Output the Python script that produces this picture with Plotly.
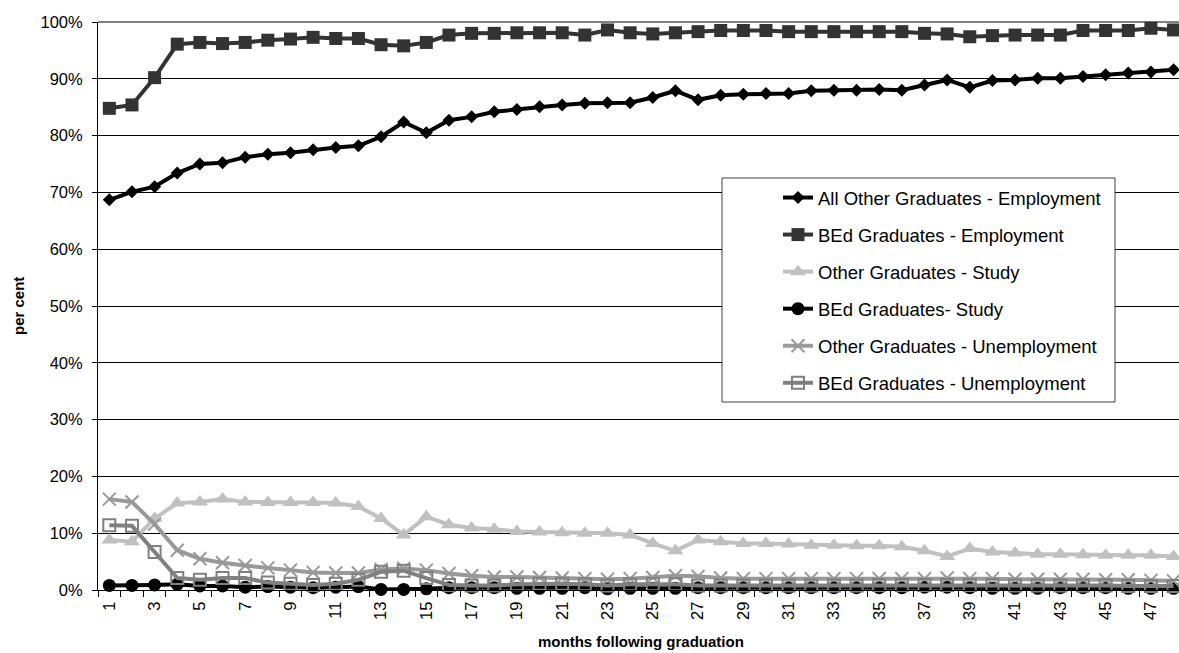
import plotly.graph_objects as go

months = list(range(1, 49))
tick_months = list(range(1, 48, 2))
y_ticks = list(range(0, 101, 10))
y_tick_labels = [f"{v}%" for v in y_ticks]

all_other_emp = [68.7, 70.1, 71.0, 73.4, 75.0, 75.2, 76.2, 76.7, 77.0, 77.5,
                 77.9, 78.2, 79.8, 82.4, 80.5, 82.7, 83.3, 84.2, 84.6, 85.1,
                 85.4, 85.7, 85.8, 85.8, 86.7, 87.9, 86.3, 87.1, 87.3, 87.4,
                 87.4, 87.9, 88.0, 88.0, 88.1, 88.0, 88.9, 89.8, 88.5, 89.7,
                 89.8, 90.1, 90.1, 90.4, 90.7, 91.0, 91.2, 91.6]
bed_emp = [84.8, 85.4, 90.2, 96.1, 96.4, 96.2, 96.4, 96.8, 97.0, 97.3,
           97.1, 97.1, 96.0, 95.8, 96.4, 97.7, 98.0, 98.0, 98.1, 98.1,
           98.1, 97.7, 98.6, 98.1, 97.9, 98.1, 98.3, 98.5, 98.5, 98.5,
           98.3, 98.3, 98.3, 98.3, 98.3, 98.3, 98.0, 97.9, 97.4, 97.6,
           97.7, 97.7, 97.7, 98.5, 98.5, 98.5, 98.9, 98.6]
other_study = [8.8, 8.5, 12.6, 15.3, 15.5, 16.0, 15.5, 15.4, 15.4, 15.4,
               15.3, 14.7, 12.6, 9.7, 12.9, 11.5, 10.9, 10.7, 10.3, 10.2,
               10.1, 10.0, 10.0, 9.7, 8.2, 6.9, 8.8, 8.5, 8.2, 8.2,
               8.1, 7.9, 7.9, 7.8, 7.8, 7.6, 6.9, 5.9, 7.3, 6.7,
               6.5, 6.3, 6.3, 6.2, 6.1, 6.1, 6.1, 5.9]
bed_study = [0.8, 0.8, 0.9, 1.0, 0.7, 0.7, 0.5, 0.6, 0.5, 0.4,
             0.5, 0.6, 0.1, 0.1, 0.2, 0.4, 0.4, 0.4, 0.3, 0.3,
             0.3, 0.4, 0.2, 0.3, 0.3, 0.3, 0.4, 0.4, 0.4, 0.4,
             0.4, 0.4, 0.4, 0.4, 0.4, 0.4, 0.5, 0.5, 0.4, 0.3,
             0.3, 0.3, 0.4, 0.4, 0.4, 0.3, 0.3, 0.3]
other_unemp = [16.0, 15.5, 11.6, 7.0, 5.5, 4.8, 4.3, 3.9, 3.5, 3.1,
               3.0, 3.0, 3.6, 3.8, 3.5, 2.9, 2.5, 2.3, 2.3, 2.2,
               2.1, 2.0, 1.9, 2.0, 2.2, 2.5, 2.4, 2.1, 2.0, 2.0,
               2.0, 2.0, 2.0, 2.0, 2.0, 2.0, 2.0, 2.1, 2.0, 2.0,
               1.9, 1.9, 1.9, 1.9, 1.8, 1.8, 1.7, 1.6]
bed_unemp = [11.4, 11.3, 6.7, 2.1, 1.8, 2.1, 2.1, 1.3, 1.1, 0.9,
             1.1, 1.8, 3.2, 3.4, 2.1, 0.9, 0.8, 0.8, 1.0, 1.1,
             1.1, 1.0, 0.8, 1.0, 1.0, 1.0, 0.8, 0.8, 0.8, 0.8,
             0.8, 0.8, 0.8, 0.8, 0.9, 0.9, 0.9, 0.9, 0.9, 0.9,
             0.8, 0.8, 0.8, 0.8, 0.8, 0.7, 0.7, 0.7]

series = [
    ("All Other Graduates - Employment", all_other_emp, "#000000",
     dict(symbol="diamond", size=10, color="#000000")),
    ("BEd Graduates - Employment", bed_emp, "#333333",
     dict(symbol="square", size=13, color="#333333")),
    ("Other Graduates - Study", other_study, "#C0C0C0",
     dict(symbol="triangle-up", size=14, color="#C0C0C0")),
    ("BEd Graduates- Study", bed_study, "#000000",
     dict(symbol="circle", size=13, color="#000000")),
    ("Other Graduates - Unemployment", other_unemp, "#999999",
     dict(symbol="x-thin-open", size=13, color="#999999",
          line=dict(color="#999999", width=2))),
    ("BEd Graduates - Unemployment", bed_unemp, "#808080",
     dict(symbol="square-open", size=12, color="#808080",
          line=dict(color="#808080", width=2))),
]

FONT = "Liberation Sans, Arial, sans-serif"
TICK_SIZE = 16.5

fig = go.Figure()
for i, (name, vals, color, marker) in enumerate(series):
    fig.add_trace(go.Scatter(
        x=months, y=vals, name=name, mode="lines+markers",
        line=dict(color=color, width=4), marker=marker,
        legendgroup=f"g{i}", cliponaxis=False,
    ))

L, R, T, B = 98, 0, 22, 63
W, H = 1179, 653
pw, ph = W - L - R, H - T - B

def px_x(x):
    return (x - L) / pw

def px_y(y):
    return (H - B - y) / ph

fig.update_layout(
    width=W, height=H,
    margin=dict(l=L, r=R, t=T, b=B),
    paper_bgcolor="white", plot_bgcolor="white",
    font=dict(family=FONT, size=15, color="#000000"),
    showlegend=True,
    legend=dict(
        x=px_x(778), y=px_y(179), xanchor="left", yanchor="top",
        bgcolor="rgba(0,0,0,0)", borderwidth=0,
        font=dict(family=FONT, size=18.5, color="#000000"),
        traceorder="grouped", tracegroupgap=10,
    ),
    xaxis=dict(
        range=[0.5, 48.24], showgrid=False, zeroline=False,
        showline=True, linecolor="#000000", linewidth=1,
        tickmode="array", tickvals=tick_months,
        ticktext=[str(m) for m in tick_months],
        tickangle=-90, ticks="outside", ticklen=0,
        tickfont=dict(family=FONT, size=TICK_SIZE, color="#000000"),
        ticklabelstandoff=4,
        minor=dict(tickvals=[m + 0.5 for m in range(0, 48)],
                   ticks="outside", ticklen=6, tickcolor="#000000",
                   showgrid=False),
    ),
    yaxis=dict(
        range=[0, 100], showgrid=True, gridcolor="#000000", gridwidth=1,
        zeroline=False, showline=True, linecolor="#000000", linewidth=1,
        tickmode="array", tickvals=y_ticks, ticktext=y_tick_labels,
        ticks="outside", ticklen=5, tickcolor="#000000",
        tickfont=dict(family=FONT, size=TICK_SIZE, color="#000000"),
        ticklabelstandoff=6,
    ),
    shapes=[
        dict(type="line", xref="paper", yref="paper", x0=0, x1=1, y0=1, y1=1,
             line=dict(color="#808080", width=2), layer="below"),
        dict(type="rect", xref="paper", yref="paper",
             x0=px_x(722), x1=px_x(1115), y0=px_y(402), y1=px_y(178),
             fillcolor="white", line=dict(color="#404040", width=1),
             layer="above"),
    ],
    annotations=[
        dict(text="<b>per cent</b>", xref="paper", yref="paper",
             x=px_x(18), y=0.5, xanchor="center", yanchor="middle",
             textangle=-90, showarrow=False,
             font=dict(family=FONT, size=15, color="#000000")),
        dict(text="<b>months following graduation</b>", xref="paper", yref="paper",
             x=px_x(640.5), y=px_y(641), xanchor="center", yanchor="middle",
             showarrow=False,
             font=dict(family=FONT, size=15, color="#000000")),
    ],
)

fig.write_html("out.html")
